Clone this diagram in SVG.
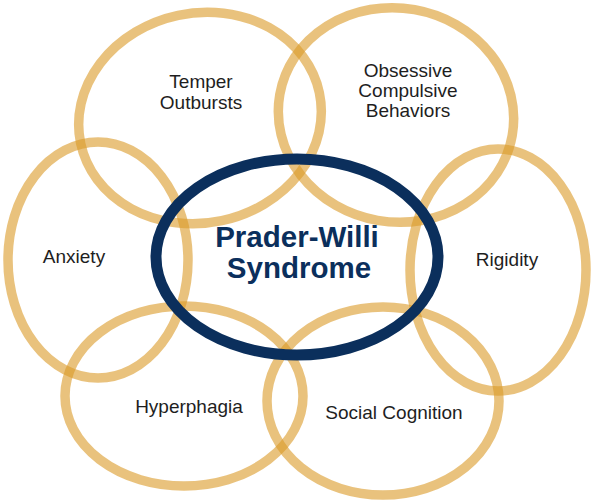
<svg xmlns="http://www.w3.org/2000/svg" width="596" height="502" viewBox="0 0 596 502">
<style>
.ring{fill:none;stroke:#DA9926;stroke-opacity:0.6;stroke-width:9.5}
.core{fill:none;stroke:#0B2F5C;stroke-width:11}
.lbl{font-family:"Liberation Sans",Arial,sans-serif;font-size:19px;fill:#1e1e1e;text-anchor:middle}
.title{font-family:"Liberation Sans",Arial,sans-serif;font-size:29.5px;font-weight:bold;fill:#0B2F5C;text-anchor:middle}
</style>
<rect width="596" height="502" fill="#fff"/>
<g id="temper"><ellipse class="ring" cx="200" cy="118" rx="122" ry="105" transform="rotate(-12 200 118)"/><text class="lbl" x="201" y="88">Temper</text><text class="lbl" x="201" y="109">Outbursts</text></g>
<g id="ocb"><ellipse class="ring" cx="396" cy="115" rx="118" ry="107" transform="rotate(10 396 115)"/><text class="lbl" x="408" y="77">Obsessive</text><text class="lbl" x="408" y="97">Compulsive</text><text class="lbl" x="408" y="117">Behaviors</text></g>
<g id="anxiety"><ellipse class="ring" cx="98" cy="260" rx="90" ry="118"/><text class="lbl" x="74" y="263">Anxiety</text></g>
<g id="rigidity"><ellipse class="ring" cx="498" cy="270" rx="88" ry="121"/><text class="lbl" x="507" y="266">Rigidity</text></g>
<g id="hyperphagia"><ellipse class="ring" cx="184" cy="396" rx="119" ry="90"/><text class="lbl" x="189" y="413">Hyperphagia</text></g>
<g id="social"><ellipse class="ring" cx="383" cy="401" rx="116" ry="94"/><text class="lbl" x="394" y="419">Social Cognition</text></g>
<g id="pws"><ellipse class="core" cx="297" cy="257" rx="141" ry="98"/><text class="title" x="297" y="247">Prader-Willi</text><text class="title" x="299" y="278">Syndrome</text></g>
<g id="connectors"></g>
</svg>
